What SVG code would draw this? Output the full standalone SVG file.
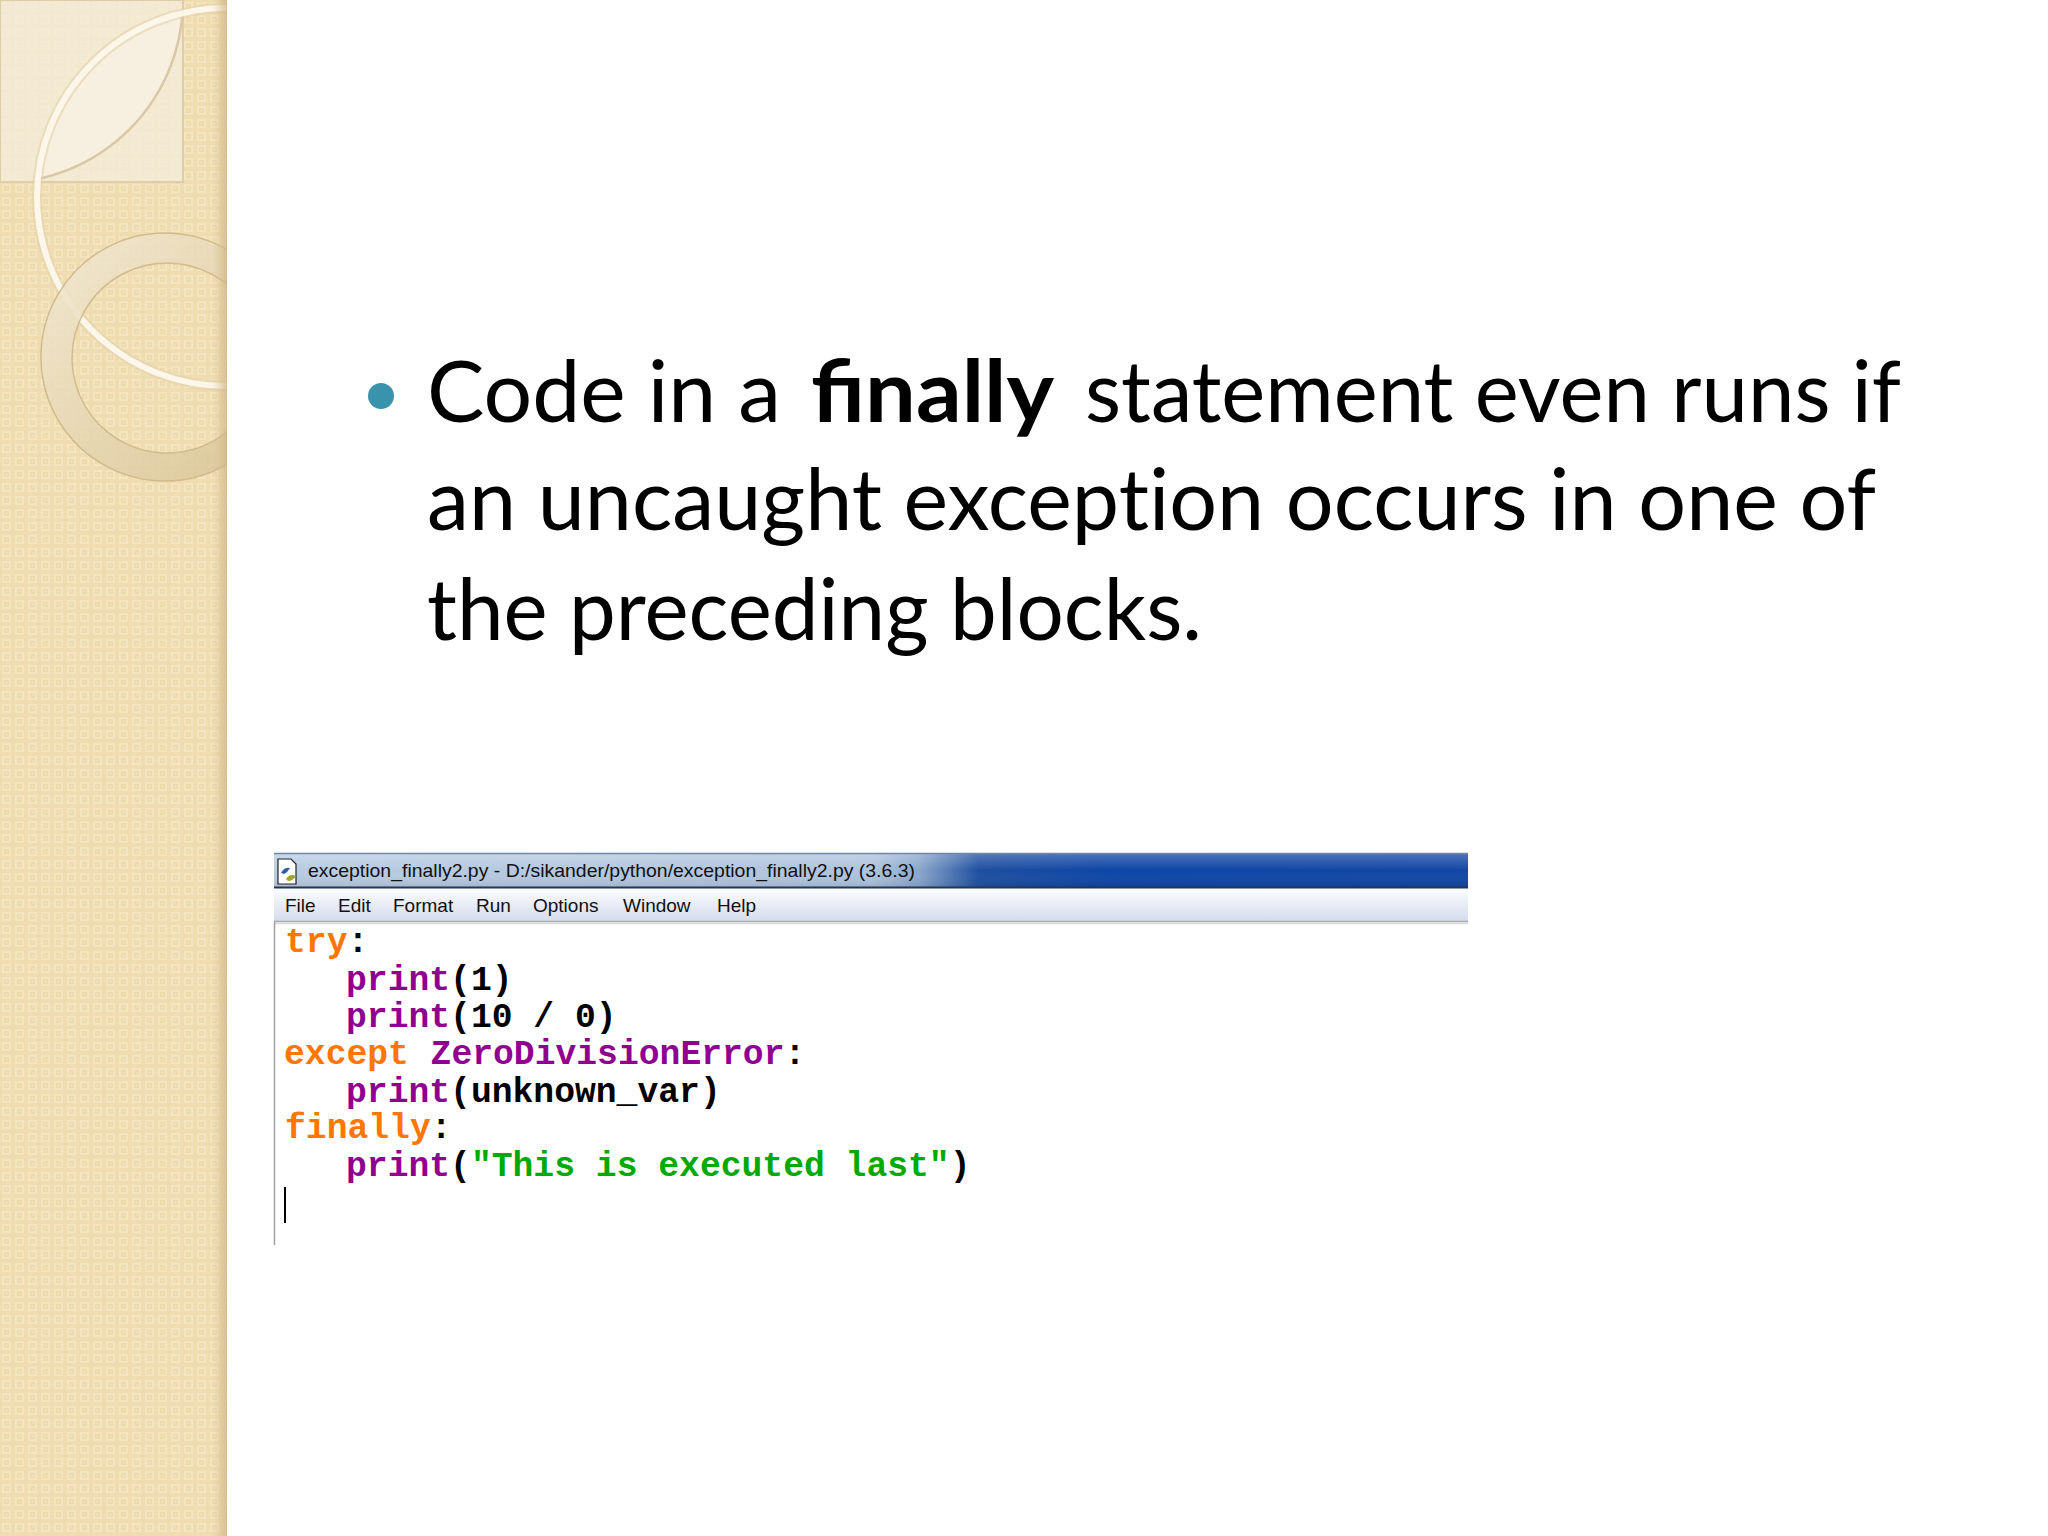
<svg xmlns="http://www.w3.org/2000/svg" width="2048" height="1536" viewBox="0 0 2048 1536">
<style>
.body{font-family:Lato,"Open Sans","Liberation Sans",sans-serif;font-size:86px;fill:#000}
.nolig{font-variant-ligatures:no-common-ligatures}
.bold{font-weight:bold}
.code{font-family:"Liberation Mono","Courier New",monospace;font-weight:bold;font-size:34.7px;fill:#000}
.kw{fill:#ff7700}
.bi{fill:#900090}
.st{fill:#00aa00}
.ui{font-family:"Liberation Sans","Open Sans",sans-serif;font-size:19px;fill:#111}
</style>
<defs>
<pattern id="dots" x="0" y="0" width="13" height="13" patternUnits="userSpaceOnUse">
<rect width="13" height="13" fill="#efdcb0"/>
<rect x="2" y="2" width="9" height="9" fill="#f4e5c2"/>
<rect x="4" y="4" width="5" height="5" fill="#eed9ab"/>
<rect x="5.5" y="5.5" width="2" height="2" fill="#f3e3bf"/>
</pattern>
<linearGradient id="edge" x1="0" x2="1" y1="0" y2="0">
<stop offset="0" stop-color="#d9c596" stop-opacity="0"/>
<stop offset="1" stop-color="#cdb684" stop-opacity="0.8"/>
</linearGradient>
<linearGradient id="ringg" x1="0" y1="0" x2="1" y2="1">
<stop offset="0" stop-color="#f3ead6"/>
<stop offset="0.5" stop-color="#e6d6b2"/>
<stop offset="1" stop-color="#d6c292"/>
</linearGradient>
<linearGradient id="titleg" x1="0" x2="1" y1="0" y2="0">
<stop offset="0" stop-color="#b9cce2"/>
<stop offset="0.5" stop-color="#aec3dc"/>
<stop offset="0.54" stop-color="#8aa7cc"/>
<stop offset="0.59" stop-color="#1e4f9f"/>
<stop offset="0.7" stop-color="#0e46a6"/>
<stop offset="1" stop-color="#1247a4"/>
</linearGradient>
<linearGradient id="titlev" x1="0" x2="0" y1="0" y2="1">
<stop offset="0" stop-color="#ffffff" stop-opacity="0.25"/>
<stop offset="0.5" stop-color="#ffffff" stop-opacity="0"/>
<stop offset="1" stop-color="#000000" stop-opacity="0.1"/>
</linearGradient>
<linearGradient id="menug" x1="0" x2="0" y1="0" y2="1">
<stop offset="0" stop-color="#fbfcfe"/>
<stop offset="0.45" stop-color="#e9edf6"/>
<stop offset="1" stop-color="#d6dcee"/>
</linearGradient>
<clipPath id="strip"><rect x="0" y="0" width="227" height="1536"/></clipPath>
<clipPath id="bigc"><circle cx="226" cy="197" r="189"/></clipPath>
</defs>

<rect width="2048" height="1536" fill="#ffffff"/>

<g id="background-strip" clip-path="url(#strip)">
<rect x="0" y="0" width="227" height="1536" fill="url(#dots)"/>
<rect x="0" y="0" width="183" height="182" fill="#f5eedd" opacity="0.75" stroke="#d8c9a6" stroke-width="2"/>
<g clip-path="url(#bigc)">
<path d="M183 0 A183 183 0 0 1 0 183 L0 0 Z" fill="#f7f1e3" opacity="0.85" stroke="#d3c29c" stroke-width="2.5"/>
</g>
<circle cx="226" cy="197" r="189" fill="none" stroke="#e2d1a8" stroke-width="10" opacity="0.6"/>
<circle cx="226" cy="197" r="189" fill="none" stroke="#fcf7ea" stroke-width="6"/>
<path d="M165 233 A124 124 0 1 1 164.9 233 Z M167 263 A95 95 0 1 0 167.1 263 Z" fill="url(#ringg)" fill-rule="evenodd" opacity="0.85" stroke="#cbb688" stroke-width="1.5"/>
<rect x="212" y="0" width="15" height="1536" fill="url(#edge)"/>
</g>

<g id="bullet-text">
<circle cx="381" cy="396" r="13" fill="#3a93ad"/>
<text class="body" y="422"><tspan x="427" textLength="354" lengthAdjust="spacingAndGlyphs">Code in a</tspan> <tspan class="bold" x="811" textLength="243" lengthAdjust="spacingAndGlyphs">finally</tspan> <tspan x="1085" textLength="816" lengthAdjust="spacingAndGlyphs">statement even runs if</tspan></text>
<text class="body nolig" x="427" y="530" textLength="1449" lengthAdjust="spacingAndGlyphs">an uncaught exception occurs in one of</text>
<text class="body" x="427" y="640" textLength="775" lengthAdjust="spacingAndGlyphs">the preceding blocks.</text>
</g>

<g id="idle-window">
<rect x="274" y="853" width="1194" height="35" fill="url(#titleg)"/>
<rect x="274" y="853" width="1194" height="35" fill="url(#titlev)"/>
<line x1="274" y1="853.5" x2="1468" y2="853.5" stroke="#6f86a8" stroke-width="1.5"/>
<line x1="274" y1="887.5" x2="1468" y2="887.5" stroke="#22365c" stroke-width="2"/>
<g id="icon">
<path d="M278 859 h13 l5 5 v20 h-18 Z" fill="#ffffff" stroke="#222" stroke-width="1.2"/>
<path d="M281 873 q3 -6 9 -5 q-2 4 -6 6 Z" fill="#2f5fa8"/>
<path d="M286 879 q4 -6 10 -3 q-3 5 -8 5 Z" fill="#9ea52e"/>
</g>
<text class="ui" x="308" y="877" textLength="607" lengthAdjust="spacingAndGlyphs">exception_finally2.py - D:/sikander/python/exception_finally2.py (3.6.3)</text>
<rect x="274" y="889" width="1194" height="32" fill="url(#menug)"/>
<line x1="274" y1="921.5" x2="1468" y2="921.5" stroke="#a9a9a9" stroke-width="1.5"/>
<line x1="274" y1="923.5" x2="1468" y2="923.5" stroke="#d8d8d8" stroke-width="1.5"/>
<text class="ui" y="912"><tspan x="285">File</tspan><tspan x="338">Edit</tspan><tspan x="393">Format</tspan><tspan x="476">Run</tspan><tspan x="533">Options</tspan><tspan x="623">Window</tspan><tspan x="717">Help</tspan></text>
<line x1="274.5" y1="922" x2="274.5" y2="1245" stroke="#a0a0a0" stroke-width="1.5"/>
</g>

<g id="code">
<text class="code" y="952"><tspan x="285" class="kw">try</tspan><tspan>:</tspan></text>
<text class="code" y="990"><tspan x="346" class="bi">print</tspan><tspan>(1)</tspan></text>
<text class="code" y="1027"><tspan x="346" class="bi">print</tspan><tspan>(10 / 0)</tspan></text>
<text class="code" y="1064"><tspan x="284" class="kw">except</tspan><tspan x="430.6" class="bi">ZeroDivisionError</tspan><tspan>:</tspan></text>
<text class="code" y="1102"><tspan x="346" class="bi">print</tspan><tspan>(unknown_var)</tspan></text>
<text class="code" y="1138"><tspan x="285" class="kw">finally</tspan><tspan>:</tspan></text>
<text class="code" y="1176"><tspan x="346" class="bi">print</tspan><tspan>(</tspan><tspan class="st">"This is executed last"</tspan><tspan>)</tspan></text>
<line x1="285" y1="1187" x2="285" y2="1223" stroke="#000" stroke-width="2"/>
</g>
</svg>
